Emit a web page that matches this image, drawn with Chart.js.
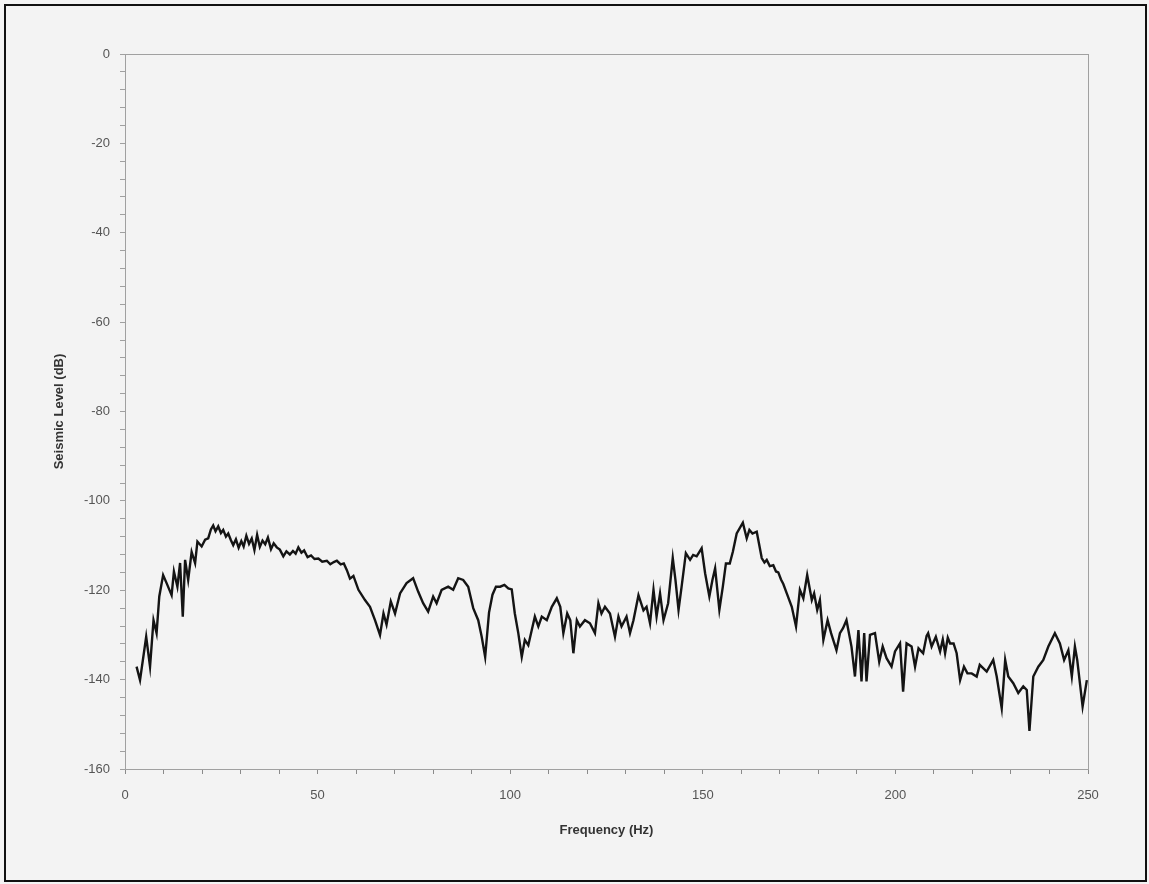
<!DOCTYPE html>
<html lang="en">
<head>
    <meta charset="UTF-8">
    <title>Seismic Level vs Frequency</title>
    <style>
        body {
            margin: 0;
            padding: 0;
            background-color: #f3f3f3;
            font-family: "Liberation Sans", Arial, sans-serif;
        }
        .frame {
            position: absolute;
            left: 4px;
            top: 4px;
            width: 1139px;
            height: 874px;
            border: 2px solid #111;
        }
        .chart-box {
            position: absolute;
            left: 0;
            top: 0;
            width: 1149px;
            height: 884px;
        }
    </style>
</head>
<body>
    <div class="frame"></div>
    <div class="chart-box">
        <canvas id="seismicChart"></canvas>
    </div>

    <script src="https://cdn.jsdelivr.net/npm/chart.js"></script>
    <script>
        // Frequency (Hz) and level (dB)
        const freqHz = [
            3.0, 3.9, 5.5, 6.5, 7.4, 8.2, 8.9, 9.9, 10.8, 12.1, 12.7, 13.6, 14.3, 15.0, 15.6, 16.4, 17.3, 18.2, 18.8, 19.9,
            20.8, 21.6, 22.3, 22.9, 23.5, 24.2, 24.9, 25.5, 26.2, 26.8, 27.5, 28.1, 28.8, 29.5, 30.2, 30.8, 31.5, 32.2, 32.9, 33.6,
            34.3, 35.0, 35.7, 36.4, 37.1, 37.9, 38.6, 39.4, 40.2, 41.1, 41.9, 42.8, 43.6, 44.3, 45.0, 45.8, 46.5, 47.4, 48.3, 49.2,
            50.2, 51.2, 52.4, 53.3, 54.2, 55.0, 56.0, 56.8, 57.6, 58.4, 59.3, 60.6, 62.3, 63.6, 64.9, 66.2, 67.1, 67.9, 69.0, 70.1,
            71.4, 73.1, 74.8, 76.1, 77.4, 78.7, 80.0, 80.9, 82.2, 83.9, 85.2, 86.5, 87.8, 89.1, 90.4, 91.7, 92.6, 93.5, 94.5, 95.4,
            96.3, 97.4, 98.5, 99.5, 100.4, 101.2, 102.1, 103.0, 103.8, 104.7, 105.6, 106.4, 107.3, 108.2, 109.5, 110.8, 112.1, 113.0, 113.8, 114.8,
            115.6, 116.4, 117.3, 118.1, 119.4, 120.7, 122.0, 122.9, 123.7, 124.6, 125.9, 127.2, 128.1, 128.9, 130.2, 131.1, 132.0, 133.3, 134.6, 135.4,
            136.3, 137.2, 138.0, 138.9, 139.8, 141.0, 142.2, 142.9, 143.7, 144.5, 145.6, 146.7, 147.5, 148.4, 149.7, 150.6, 151.7, 152.5, 153.2, 154.3,
            155.2, 156.0, 157.0, 157.8, 158.8, 160.4, 161.4, 162.1, 162.9, 164.0, 165.3, 166.0, 166.6, 167.4, 168.3, 169.0, 169.6, 170.3, 170.9, 171.8,
            173.1, 174.2, 175.2, 176.1, 177.1, 178.3, 178.9, 179.7, 180.4, 181.3, 182.4, 183.3, 184.7, 185.6, 186.4, 187.3, 188.6, 189.5, 190.4, 191.2,
            191.9, 192.5, 193.4, 194.7, 195.8, 196.7, 197.7, 199.0, 199.9, 201.2, 202.0, 202.9, 204.2, 205.1, 206.0, 207.2, 208.1, 208.5, 209.4, 210.5,
            211.6, 212.3, 212.9, 213.6, 214.2, 215.1, 215.9, 216.8, 217.8, 218.7, 219.8, 221.1, 221.9, 223.7, 225.4, 226.3, 227.6, 228.5, 229.3, 230.6,
            231.9, 233.2, 234.1, 234.8, 235.8, 237.1, 238.4, 239.7, 241.4, 242.7, 243.8, 244.9, 245.8, 246.6, 247.2, 248.6, 249.7
        ];
        const levelDb = [
            -137.1, -140.1, -130.4, -137.1, -126.7, -129.6, -121.4, -116.6, -118.4, -121.1, -115.8, -119.2, -113.9, -125.9, -113.2, -117.7, -111.4, -113.9, -109.1, -110.2,
            -108.7, -108.4, -106.4, -105.5, -106.8, -105.7, -107.2, -106.5, -108.0, -107.3, -108.8, -109.9, -108.6, -110.5, -109.0, -110.2, -107.8, -109.6, -108.4, -111.0,
            -107.6, -110.3, -108.9, -109.7, -108.2, -110.8, -109.5, -110.4, -110.9, -112.4, -111.3, -112.0, -111.2, -111.8, -110.4, -111.6, -111.1, -112.6, -112.2, -113.0,
            -112.9, -113.6, -113.4, -114.2, -113.7, -113.4, -114.2, -114.0, -115.5, -117.4, -116.8, -119.9, -122.2, -123.7, -126.7, -130.0, -125.2, -127.7, -122.5, -125.2,
            -120.7, -118.4, -117.3, -120.3, -122.9, -124.8, -121.4, -122.9, -119.9, -119.2, -119.9, -117.3, -117.7, -119.2, -124.0, -126.7, -130.4, -134.9, -125.0, -121.0,
            -119.2, -119.2, -118.8, -119.6, -119.8, -125.2, -129.6, -134.9, -131.1, -132.3, -128.9, -125.9, -128.1, -125.9, -126.7, -123.7, -121.8, -123.7, -129.6, -125.2,
            -126.7, -134.1, -126.7, -128.1, -126.7, -127.4, -129.6, -122.9, -125.2, -123.7, -125.2, -130.4, -125.9, -128.1, -125.9, -129.6, -126.7, -121.1, -124.5, -123.7,
            -127.4, -119.9, -125.9, -120.7, -126.7, -122.9, -112.8, -117.7, -124.4, -119.2, -111.7, -113.2, -112.1, -112.4, -110.6, -116.2, -121.4, -117.7, -115.1, -124.4,
            -119.2, -114.0, -114.0, -111.4, -107.3, -104.9, -108.4, -106.5, -107.3, -106.9, -112.8, -113.8, -113.2, -114.6, -114.4, -115.8, -116.0, -117.6, -118.6, -120.7,
            -123.7, -128.1, -119.9, -121.8, -116.6, -122.2, -120.7, -124.4, -122.2, -131.1, -126.7, -129.6, -133.4, -129.6, -128.5, -126.7, -132.6, -139.3, -128.9, -140.4,
            -129.6, -140.4, -130.0, -129.6, -136.0, -132.6, -135.2, -137.1, -133.7, -131.9, -142.7, -131.9, -132.6, -137.1, -133.0, -134.1, -130.2, -129.6, -132.6, -130.4,
            -133.7, -131.0, -134.1, -130.6, -131.9, -131.9, -134.1, -140.1, -137.1, -138.6, -138.6, -139.3, -136.7, -138.2, -135.6, -139.3, -146.4, -135.6, -139.3, -140.8,
            -143.0, -141.5, -142.3, -151.5, -139.3, -137.1, -135.6, -132.6, -129.6, -131.9, -135.6, -133.4, -139.3, -132.6, -135.6, -146.0, -140.1
        ];

        const xMin = 0, xMax = 250, xMinorStep = 10, xLabelStep = 50;
        const yMin = -160, yMax = 0, yMinorStep = 4, yLabelStep = 20;

        // gray box round the plot area
        const plotBorder = {
            id: 'plotBorder',
            afterDraw(chart) {
                const a = chart.chartArea;
                const ctx = chart.ctx;
                ctx.save();
                ctx.strokeStyle = '#a0a0a0';
                ctx.lineWidth = 1;
                ctx.strokeRect(a.left + 0.5, a.top + 0.5, a.right - a.left, a.bottom - a.top);
                ctx.restore();
            }
        };

        Chart.defaults.font.family = '"Liberation Sans", Arial, sans-serif';

        new Chart(document.getElementById('seismicChart'), {
            type: 'line',
            data: {
                datasets: [{
                    data: freqHz.map((f, i) => ({ x: f, y: levelDb[i] })),
                    borderColor: '#141414',
                    borderWidth: 2.4,
                    pointRadius: 0,
                    tension: 0,
                    fill: false
                }]
            },
            options: {
                responsive: true,
                maintainAspectRatio: false,
                animation: false,
                layout: { padding: { left: 0, top: 54, right: 61, bottom: 0 } },
                plugins: { legend: { display: false }, tooltip: { enabled: false } },
                scales: {
                    x: {
                        type: 'linear',
                        min: xMin,
                        max: xMax,
                        afterFit: (scale) => { scale.height = 115; },
                        afterBuildTicks: (scale) => {
                            const t = [];
                            for (let v = xMin; v <= xMax; v += xMinorStep) t.push({ value: v });
                            scale.ticks = t;
                        },
                        ticks: {
                            autoSkip: false,
                            maxRotation: 0,
                            padding: 14,
                            color: '#555',
                            font: { size: 13 },
                            callback: (v) => (v % xLabelStep === 0 ? v : '')
                        },
                        grid: { drawOnChartArea: false, tickLength: 5, color: '#8a8a8a' },
                        border: { color: '#8a8a8a' },
                        title: {
                            display: true,
                            text: 'Frequency (Hz)',
                            color: '#333',
                            font: { size: 13, weight: 'bold' },
                            padding: { top: 0, bottom: 46 }
                        }
                    },
                    y: {
                        min: yMin,
                        max: yMax,
                        afterFit: (scale) => { scale.width = 125; },
                        afterBuildTicks: (scale) => {
                            const t = [];
                            for (let v = yMin; v <= yMax; v += yMinorStep) t.push({ value: v });
                            scale.ticks = t;
                        },
                        ticks: {
                            autoSkip: false,
                            padding: 10,
                            color: '#555',
                            font: { size: 13 },
                            callback: (v) => (v % yLabelStep === 0 ? v : '')
                        },
                        grid: { drawOnChartArea: false, tickLength: 5, color: '#a0a0a0' },
                        border: { color: '#8a8a8a' },
                        title: {
                            display: true,
                            text: 'Seismic Level (dB)',
                            color: '#333',
                            font: { size: 13, weight: 'bold' },
                            padding: { top: 52, bottom: 0 }
                        }
                    }
                }
            },
            plugins: [plotBorder]
        });
    </script>
</body>
</html>
